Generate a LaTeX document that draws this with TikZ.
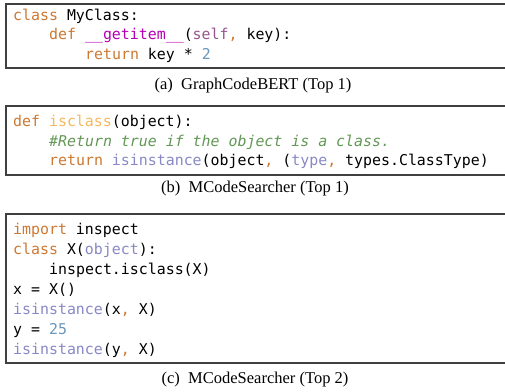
\documentclass[tikz,border=0pt]{standalone}
\usepackage{fontspec}
\setmonofont{DejaVu Sans Mono}
\setmainfont{Liberation Serif}
\definecolor{kw}{HTML}{CC7832}
\definecolor{magf}{HTML}{B200B2}
\definecolor{selfc}{HTML}{94558D}
\definecolor{fnc}{HTML}{F5B85F}
\definecolor{cmt}{HTML}{629755}
\definecolor{bi}{HTML}{8888C6}
\definecolor{num}{HTML}{6897BB}
\definecolor{frame}{HTML}{404040}
\newcommand{\K}[1]{\textcolor{kw}{#1}}
\newcommand{\B}[1]{\textcolor{bi}{#1}}
\newcommand{\N}[1]{\textcolor{num}{#1}}
\begin{document}
\begin{tikzpicture}[x=1pt,y=-1pt,
  code/.style={anchor=base west,inner sep=0pt,font=\fontsize{14.9}{18}\selectfont\ttfamily},
  captext/.style={anchor=base,inner sep=0pt,font=\fontsize{16.5}{19}\selectfont},
  box/.style={draw=frame,line width=1.2pt}]
\useasboundingbox (0,0) rectangle (505,391);
% box a
\draw[box] (506,4) -- (6,4) -- (6,68) -- (506,68);
\node[code] (a1) at (13,20) {\K{class} MyClass:};
\node[code] (a2) at (49,39.5) {\K{def} \textcolor{magf}{\_\_getitem\_\_}(\textcolor{selfc}{self}\K{,} key):};
\node[code] (a3) at (85,59) {\K{return} key * \N{2}};
\node[captext] (ca) at (253,89) {(a)\enspace GraphCodeBERT (Top 1)};
% box b
\draw[box] (506,106) -- (6,106) -- (6,175) -- (506,175);
\node[code] (b1) at (13,126.5) {\K{def} \textcolor{fnc}{isclass}(object):};
\node[code] (b2) at (49,146) {\textcolor{cmt}{\itshape\#Return true if the object is a class.}};
\node[code] (b3) at (49,165.5) {\K{return} \B{isinstance}(object\K{,} (\B{type}\K{,} types.ClassType)};
\node[captext] (cb) at (255,192) {(b)\enspace MCodeSearcher (Top 1)};
% box c
\draw[box] (506,214) -- (6,214) -- (6,363) -- (506,363);
\node[code] (c1) at (13,234) {\K{import} inspect};
\node[code] (c2) at (13,254) {\K{class} X(\B{object}):};
\node[code] (c3) at (49,274) {inspect.isclass(X)};
\node[code] (c4) at (13,294) {x = X()};
\node[code] (c5) at (13,314) {\B{isinstance}(x\K{,} X)};
\node[code] (c6) at (13,334) {y = \N{25}};
\node[code] (c7) at (13,354.5) {\B{isinstance}(y\K{,} X)};
\node[captext] (cc) at (255,383) {(c)\enspace MCodeSearcher (Top 2)};
\end{tikzpicture}
\end{document}
